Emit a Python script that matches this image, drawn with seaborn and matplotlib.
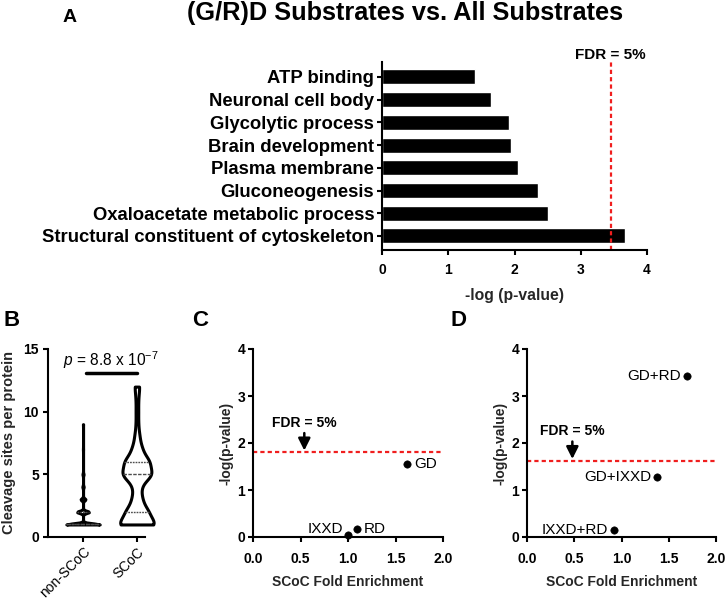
import numpy as np
import pandas as pd
import matplotlib
matplotlib.use("Agg")
import matplotlib.pyplot as plt
import seaborn as sns

# Panel A: GO enrichment of (G/R)D substrates
go_terms = ["ATP binding", "Neuronal cell body", "Glycolytic process",
            "Brain development", "Plasma membrane", "Gluconeogenesis",
            "Oxaloacetate metabolic process",
            "Structural constituent of cytoskeleton"]
go_neglogp = [1.40, 1.65, 1.91, 1.94, 2.05, 2.36, 2.50, 3.67]
go_fdr = 3.45

# Panel B: cleavage sites per protein (value -> number of proteins)
site_values = [1, 2, 3, 4, 5, 6, 7, 8, 9, 10, 11, 12]
non_scoc_counts = [150, 55, 22, 6, 5, 0, 1, 0, 1, 0, 0, 0]
scoc_counts = [15, 9, 4, 3, 12, 10, 4, 2, 1, 1, 1, 2]
groups = ["non-SCoC", "SCoC"]
p_text = r"$p$ = 8.8 x 10$^{-7}$"

# Panel C: single motifs
c_motifs = ["GD", "RD", "IXXD"]
c_enrich = [1.62, 1.09, 1.00]
c_neglogp = [1.56, 0.16, 0.05]
c_fdr = 1.80

# Panel D: motif combinations
d_motifs = ["GD+RD", "GD+IXXD", "IXXD+RD"]
d_enrich = [1.69, 1.38, 0.92]
d_neglogp = [3.43, 1.28, 0.15]
d_fdr = 1.62

sns.set_theme(style="ticks", rc={
    "axes.linewidth": 1.5,
    "xtick.major.width": 1.5, "ytick.major.width": 1.5,
    "xtick.major.size": 3.6, "ytick.major.size": 3.6,
    "xtick.color": "black", "ytick.color": "black",
    "axes.edgecolor": "black", "text.color": "black",
})
plt.rcParams["font.family"] = ["Liberation Sans", "DejaVu Sans"]
plt.rcParams["mathtext.fontset"] = "custom"
plt.rcParams["mathtext.rm"] = "Liberation Sans"
plt.rcParams["mathtext.it"] = "Liberation Sans:italic"

W, H = 726, 609
fig = plt.figure(figsize=(W / 100, H / 100), dpi=100)
red_dash = (0, (1.9, 1.4))


def rect(l, t, r, b):
    return [l / W, 1 - b / H, (r - l) / W, (b - t) / H]


# ---------------- A ----------------
axA = fig.add_axes(rect(382, 62, 647, 250))
sns.barplot(x=go_neglogp, y=go_terms, orient="h", color="black",
            saturation=1, width=0.66, ax=axA)
axA.axvline(go_fdr, color="#f01e1e", ls=red_dash, lw=1.6)
axA.set_xlim(0, 4)
axA.set_ylim(7.62, -0.66)
axA.set_xticks([0, 1, 2, 3, 4])
axA.tick_params(axis="x", labelsize=10, pad=6)
axA.tick_params(axis="y", labelsize=13.3, pad=2)
for t in axA.get_xticklabels() + axA.get_yticklabels():
    t.set_fontweight("bold")
axA.set_xlabel("-log (p-value)", fontsize=11.3, fontweight="bold", labelpad=8)
axA.set_ylabel("")
axA.annotate("FDR = 5%", xy=(go_fdr, 1), xycoords=("data", "axes fraction"),
             xytext=(0, 5), textcoords="offset points", ha="center",
             va="center", fontsize=11, fontweight="bold")
sns.despine(ax=axA)
fig.text(405 / W, 1 - 13 / H, "(G/R)D Substrates vs. All Substrates",
         ha="center", va="center", fontsize=18.3, fontweight="bold")
fig.text(70 / W, 1 - 18 / H, "A", ha="center", va="center",
         fontsize=14, fontweight="bold")

# ---------------- B ----------------
axB = fig.add_axes(rect(48, 349, 145, 537))
df_b = pd.DataFrame({
    "group": [groups[0]] * sum(non_scoc_counts) + [groups[1]] * sum(scoc_counts),
    "sites": np.concatenate([np.repeat(site_values, non_scoc_counts),
                             np.repeat(site_values, scoc_counts)]),
})
for grp, bw in [(groups[0], 0.25), (groups[1], 0.42)]:
    sns.violinplot(data=df_b[df_b["group"] == grp], x="group", y="sites",
                   order=groups, cut=0, bw_adjust=bw, density_norm="width",
                   width=0.62, color="white", saturation=1,
                   linecolor="black", linewidth=2.2, inner="quart",
                   inner_kws=dict(linewidth=1.0, color="0.3"), ax=axB)
for art in axB.collections + axB.lines + axB.patches:
    art.set_clip_on(False)
axB.set_ylim(0, 15)
axB.set_yticks([0, 5, 10, 15])
axB.set_xlim(-0.65, 1.15)
axB.tick_params(axis="y", labelsize=10, pad=3)
axB.tick_params(axis="x", labelsize=10, pad=2)
for t in axB.get_xticklabels():
    t.set_rotation(45)
    t.set_ha("right")
    t.set_rotation_mode("anchor")
axB.set_xlabel("")
axB.set_ylabel("Cleavage sites per protein", fontsize=10.5,
               fontweight="bold", labelpad=5)
for t in axB.get_yticklabels():
    t.set_fontweight("bold")
axB.plot([0.05, 1.0], [13.1, 13.1], color="black", lw=2.5, clip_on=False)
axB.text(0.52, 14.1, p_text, ha="center", va="center", fontsize=11.2)
sns.despine(ax=axB)
fig.text(12 / W, 1 - 320 / H, "B", ha="center", va="center",
         fontsize=16, fontweight="bold")


# ---------------- C / D ----------------
def motif_panel(ax, xs, ys, names, fdr, label_side, arrow_x):
    sns.scatterplot(x=xs, y=ys, color="black", s=28, edgecolor="black",
                    ax=ax, zorder=3)
    ax.collections[-1].set_clip_on(False)
    ax.axhline(fdr, color="#f01e1e", ls=red_dash, lw=1.6)
    for x, y, name, side in zip(xs, ys, names, label_side):
        if side == "right":
            ax.annotate(name, (x, y), xytext=(5.0, 0), textcoords="offset points",
                        ha="left", va="center", fontsize=11)
        elif side == "left":
            ax.annotate(name, (x, y), xytext=(-4.0, 0), textcoords="offset points",
                        ha="right", va="center", fontsize=11)
        else:
            ax.annotate(name, (x, y), xytext=(-3.5, 1.5), textcoords="offset points",
                        ha="right", va="baseline", fontsize=11)
    ax.annotate("FDR = 5%", xy=(arrow_x, fdr + 0.04),
                xytext=(arrow_x, fdr + 0.63),
                ha="center", va="center", fontsize=10, fontweight="bold",
                arrowprops=dict(arrowstyle="-|>", color="black", lw=1.8,
                                mutation_scale=18, shrinkA=0, shrinkB=0))
    ax.set_xlim(0, 2)
    ax.set_ylim(0, 4)
    ax.set_xticks([0, 0.5, 1.0, 1.5, 2.0])
    ax.set_xticklabels(["0.0", "0.5", "1.0", "1.5", "2.0"])
    ax.set_yticks([0, 1, 2, 3, 4])
    ax.tick_params(axis="x", labelsize=10, pad=7)
    ax.tick_params(axis="y", labelsize=10, pad=2)
    for t in ax.get_xticklabels() + ax.get_yticklabels():
        t.set_fontweight("bold")
    ax.set_xlabel("SCoC Fold Enrichment", fontsize=10, fontweight="bold",
                  labelpad=7)
    ax.set_ylabel("-log(p-value)", fontsize=10, fontweight="bold", labelpad=3)
    sns.despine(ax=ax)


axC = fig.add_axes(rect(253, 349, 443, 537))
motif_panel(axC, c_enrich, c_neglogp, c_motifs, c_fdr,
            ["right", "right", "above"], 0.54)
fig.text(200 / W, 1 - 320 / H, "C", ha="center", va="center",
         fontsize=16, fontweight="bold")

axD = fig.add_axes(rect(527, 349, 716, 537))
motif_panel(axD, d_enrich, d_neglogp, d_motifs, d_fdr,
            ["left", "left", "left"], 0.48)
fig.text(458 / W, 1 - 320 / H, "D", ha="center", va="center",
         fontsize=16, fontweight="bold")

fig.savefig("out.png", dpi=100, facecolor="white")
